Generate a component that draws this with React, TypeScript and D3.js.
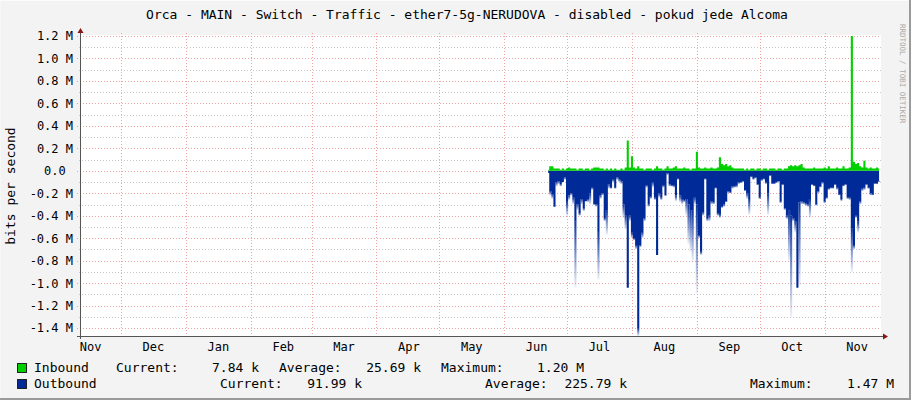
import React, { useRef, useEffect } from 'react';
import * as d3 from 'd3';

// daily samples, first one on 2024-06-22, values in Mbit/s
const firstDay = new Date(2024, 5, 22);

const inbound = [
  0.01, 0.04, 0.04, 0.02, 0.02, 0.02, 0.01, 0.02, 0.01, 0.02,
  0.03, 0.02, 0.02, 0.02, 0.01, 0.02, 0.02, 0.01, 0.02, 0.02,
  0.01, 0.02, 0.03, 0.03, 0.03, 0.02, 0.02, 0.01, 0.02, 0.01,
  0.02, 0.01, 0.02, 0.01, 0.01, 0.02, 0.01, 0.03, 0.27, 0.03,
  0.13, 0.03, 0.02, 0.04, 0.02, 0.02, 0.01, 0.02, 0.02, 0.02,
  0.01, 0.02, 0.04, 0.02, 0.02, 0.01, 0.02, 0.04, 0.02, 0.02,
  0.03, 0.04, 0.02, 0.02, 0.02, 0.03, 0.02, 0.02, 0.01, 0.02,
  0.02, 0.17, 0.03, 0.02, 0.02, 0.03, 0.02, 0.02, 0.03, 0.02,
  0.02, 0.03, 0.12, 0.06, 0.05, 0.06, 0.04, 0.05, 0.03, 0.02,
  0.02, 0.02, 0.02, 0.02, 0.01, 0.02, 0.01, 0.02, 0.02, 0.01,
  0.02, 0.02, 0.01, 0.02, 0.02, 0.01, 0.02, 0.02, 0.02, 0.01,
  0.02, 0.02, 0.01, 0.02, 0.02, 0.04, 0.05, 0.04, 0.05, 0.04,
  0.05, 0.06, 0.03, 0.02, 0.02, 0.02, 0.02, 0.03, 0.02, 0.02,
  0.02, 0.02, 0.03, 0.02, 0.04, 0.02, 0.02, 0.02, 0.03, 0.02,
  0.02, 0.04, 0.02, 0.02, 0.03, 1.2, 0.08, 0.06, 0.07, 0.04,
  0.03, 0.09, 0.03, 0.02, 0.03, 0.02, 0.02, 0.03, 0.02,
];

// outbound average (solid part)
const outbound = [
  0.02, 0.18, 0.21, 0.32, 0.1, 0.09, 0.12, 0.1, 0.06, 0.27,
  0.22, 0.2, 0.24, 0.45, 0.3, 0.38, 0.25, 0.33, 0.27, 0.25,
  0.2, 0.15, 0.3, 0.3, 0.55, 0.22, 0.2, 0.42, 0.35, 0.12,
  0.15, 0.08, 0.15, 0.06, 0.08, 0.09, 0.3, 0.4, 1.04, 0.4,
  0.55, 0.6, 0.66, 1.4, 0.66, 0.55, 0.42, 0.13, 0.3, 0.23,
  0.1, 0.24, 0.75, 0.2, 0.24, 0.13, 0.22, 0.02, 0.12, 0.13,
  0.13, 0.22, 0.07, 0.22, 0.25, 0.26, 0.25, 0.3, 0.35, 0.35,
  0.24, 0.3, 0.57, 0.72, 0.37, 0.07, 0.42, 0.4, 0.27, 0.28,
  0.15, 0.38, 0.39, 0.32, 0.3, 0.27, 0.18, 0.19, 0.14, 0.14,
  0.13, 0.1, 0.1, 0.09, 0.17, 0.2, 0.25, 0.05, 0.07, 0.06,
  0.12, 0.24, 0.08, 0.07, 0.1, 0.2, 0.04, 0.11, 0.11, 0.1,
  0.09, 0.27, 0.12, 0.33, 0.4, 0.35, 0.4, 0.42, 0.45, 1.04,
  0.28, 0.27, 0.28, 0.29, 0.3, 0.25, 0.12, 0.13, 0.3, 0.18,
  0.14, 0.1, 0.27, 0.24, 0.16, 0.15, 0.15, 0.12, 0.15, 0.21,
  0.25, 0.13, 0.12, 0.24, 0.24, 0.51, 0.66, 0.4, 0.45, 0.27,
  0.16, 0.15, 0.12, 0.15, 0.2, 0.21, 0.11, 0.11, 0.09,
];

// outbound peaks (faded tips)
const outboundPeak = [
  0.02, 0.22, 0.25, 0.32, 0.14, 0.12, 0.14, 0.1, 0.08, 0.4,
  0.26, 0.22, 0.3, 1.04, 0.35, 0.4, 0.3, 0.36, 0.27, 0.28,
  0.3, 0.17, 0.3, 0.32, 0.97, 0.25, 0.22, 0.45, 0.57, 0.16,
  0.16, 0.1, 0.16, 0.08, 0.1, 0.12, 0.42, 0.52, 1.04, 0.45,
  0.6, 0.62, 0.7, 1.47, 0.68, 0.6, 0.45, 0.15, 0.32, 0.25,
  0.15, 0.26, 0.75, 0.24, 0.26, 0.15, 0.22, 0.04, 0.14, 0.14,
  0.15, 0.27, 0.08, 0.28, 0.3, 0.28, 0.4, 0.65, 0.72, 0.81,
  0.3, 1.09, 0.6, 0.75, 0.4, 0.08, 0.45, 0.45, 0.3, 0.3,
  0.16, 0.4, 0.42, 0.33, 0.32, 0.28, 0.2, 0.2, 0.16, 0.15,
  0.15, 0.12, 0.11, 0.1, 0.18, 0.25, 0.39, 0.06, 0.08, 0.07,
  0.13, 0.25, 0.09, 0.08, 0.12, 0.39, 0.05, 0.12, 0.12, 0.11,
  0.1, 0.29, 0.13, 0.35, 0.43, 0.8, 1.3, 0.45, 0.55, 1.04,
  1.02, 0.3, 0.3, 0.31, 0.32, 0.42, 0.13, 0.14, 0.31, 0.2,
  0.15, 0.12, 0.29, 0.25, 0.17, 0.16, 0.16, 0.13, 0.17, 0.22,
  0.27, 0.14, 0.13, 0.25, 0.26, 0.9, 0.7, 0.42, 0.55, 0.3,
  0.18, 0.17, 0.13, 0.16, 0.22, 0.22, 0.12, 0.12, 0.1,
];

const yTicks = [1.2, 1.0, 0.8, 0.6, 0.4, 0.2, 0, -0.2, -0.4, -0.6, -0.8, -1.0, -1.2, -1.4];

const legendRows = [
  { name: 'Inbound', color: '#00CF00', cur: '7.84 k', avg: '25.69 k', max: '1.20 M',
    at: [116, 259, 279, 421, 441, 584] },
  { name: 'Outbound', color: '#002A97', cur: '91.99 k', avg: '225.79 k', max: '1.47 M',
    at: [220, 362, 485, 627, 750, 894] },
];

const title = 'Orca - MAIN - Switch - Traffic - ether7-5g-NERUDOVA - disabled - pokud jede Alcoma';

const W = 911;
const H = 400;
const FONT = '"DejaVu Sans Mono", monospace';

const App: React.FC = () => {
  const svgRef = useRef<SVGSVGElement>(null);

  useEffect(() => {
    document.body.style.margin = '0';
    if (!svgRef.current) return;
    const svg = d3.select(svgRef.current);
    svg.selectAll('*').remove();

    const left = 81, right = 881, top = 36, bottom = 336;

    const x = d3.scaleTime()
      .domain([new Date(2023, 10, 11, 22), new Date(2024, 10, 27, 22)])
      .range([left, right]);
    const y = d3.scaleLinear().domain([-1.47, 1.2]).range([bottom, top]);

    const days = inbound.map((_, i) => d3.timeDay.offset(firstDay, i));
    const dayW = x(days[1]) - x(days[0]);

    // frame
    svg.append('rect').attr('width', W).attr('height', H).attr('fill', '#F3F3F3');
    svg.append('path').attr('d', `M0,${H - 1}V0.5H${W - 1}`).attr('stroke', '#FCFCFC').attr('fill', 'none');
    svg.append('path').attr('d', `M${W - 1},0V${H - 1}H0`).attr('stroke', '#9A9A9A').attr('stroke-width', 2).attr('fill', 'none');

    svg.append('rect')
      .attr('x', left).attr('y', top - 1)
      .attr('width', right - left).attr('height', bottom - top + 1)
      .attr('fill', '#fff');

    // grid
    const minor = d3.range(-14, 13).filter((v) => v % 2 !== 0).map((v) => v / 10);
    const grid = svg.append('g');
    grid.selectAll('.minor')
      .data(minor)
      .enter()
      .append('line')
      .attr('x1', left - 2).attr('x2', right)
      .attr('y1', (d) => Math.round(y(d)) + 0.5).attr('y2', (d) => Math.round(y(d)) + 0.5)
      .attr('stroke', '#C8C8C8')
      .attr('stroke-dasharray', '1,2');
    grid.selectAll('.major')
      .data(yTicks)
      .enter()
      .append('line')
      .attr('x1', left - 4).attr('x2', right)
      .attr('y1', (d) => Math.round(y(d)) + 0.5).attr('y2', (d) => Math.round(y(d)) + 0.5)
      .attr('stroke', '#EDA3A3')
      .attr('stroke-dasharray', '1,2');

    const monthStarts = d3.timeMonth.range(x.domain()[0], x.domain()[1]);
    grid.selectAll('.vline')
      .data(monthStarts)
      .enter()
      .append('line')
      .attr('x1', (d) => Math.round(x(d)) + 0.5).attr('x2', (d) => Math.round(x(d)) + 0.5)
      .attr('y1', top - 3).attr('y2', bottom + 2)
      .attr('stroke', '#EDA3A3')
      .attr('stroke-dasharray', '1,2');

    // faded outbound peaks, one gradient per day
    const defs = svg.append('defs');
    const plot = svg.append('g');
    days.forEach((d, i) => {
      const lo = outbound[i];
      const hi = outboundPeak[i];
      if (hi <= lo + 0.005) return;
      const id = `fade${i}`;
      const g = defs.append('linearGradient')
        .attr('id', id)
        .attr('gradientUnits', 'userSpaceOnUse')
        .attr('x1', 0).attr('x2', 0)
        .attr('y1', y(-lo)).attr('y2', y(-hi));
      g.append('stop').attr('offset', 0).attr('stop-color', '#002A97').attr('stop-opacity', 0.95);
      g.append('stop').attr('offset', 1).attr('stop-color', '#002A97').attr('stop-opacity', 0.06);
      plot.append('rect')
        .attr('x', x(d) - dayW / 2)
        .attr('width', dayW)
        .attr('y', y(-lo))
        .attr('height', y(-hi) - y(-lo))
        .attr('fill', `url(#${id})`);
    });

    const outArea = d3.area<number>()
      .x((_, i) => x(days[i]))
      .y0(y(0))
      .y1((d) => y(-d))
      .curve(d3.curveStep);
    plot.append('path').attr('d', outArea(outbound)).attr('fill', '#002A97');

    const inArea = d3.area<number>()
      .x((_, i) => x(days[i]))
      .y0(y(0))
      .y1((d) => y(d))
      .curve(d3.curveStep);
    plot.append('path').attr('d', inArea(inbound)).attr('fill', '#00CF00');

    // axes
    svg.append('line')
      .attr('x1', left - 4).attr('x2', right + 3)
      .attr('y1', bottom + 0.5).attr('y2', bottom + 0.5)
      .attr('stroke', '#555');
    svg.append('line')
      .attr('x1', left - 0.5).attr('x2', left - 0.5)
      .attr('y1', bottom + 3).attr('y2', top - 5)
      .attr('stroke', '#555');
    svg.append('path')
      .attr('d', `M${right + 2},${bottom - 2.5}L${right + 7},${bottom + 0.5}L${right + 2},${bottom + 3.5}Z`)
      .attr('fill', '#8B1414');
    svg.append('path')
      .attr('d', `M${left - 3.5},${top - 3}L${left - 0.5},${top - 8}L${left + 2.5},${top - 3}Z`)
      .attr('fill', '#8B1414');

    // y labels
    svg.append('g')
      .selectAll('text')
      .data(yTicks)
      .enter()
      .append('text')
      .attr('x', 73)
      .attr('y', (d) => y(d))
      .attr('dy', '0.36em')
      .attr('text-anchor', 'end')
      .attr('font-family', FONT)
      .attr('font-size', 12)
      .attr('fill', '#000')
      .text((d) => (d === 0 ? '0.0 ' : `${d.toFixed(1)} M`))
      .attr('xml:space', 'preserve');

    // x labels, centred in the middle of each month
    const labelMonths = d3.timeMonth.range(d3.timeMonth.floor(x.domain()[0]), x.domain()[1]);
    svg.append('g')
      .selectAll('text')
      .data(labelMonths)
      .enter()
      .append('text')
      .attr('x', (d) => x(new Date(d.getTime() + 15.5 * 864e5)))
      .attr('y', 351)
      .attr('text-anchor', 'middle')
      .attr('font-family', FONT)
      .attr('font-size', 12)
      .text((d) => d3.timeFormat('%b')(d));

    // title and axis title
    svg.append('text')
      .attr('x', 467).attr('y', 19)
      .attr('text-anchor', 'middle')
      .attr('font-family', FONT)
      .attr('font-size', 13)
      .text(title);

    svg.append('text')
      .attr('transform', 'translate(15,186) rotate(-90)')
      .attr('text-anchor', 'middle')
      .attr('font-family', FONT)
      .attr('font-size', 13)
      .text('bits per second');

    svg.append('text')
      .attr('transform', 'translate(900,24) rotate(90)')
      .attr('font-family', FONT)
      .attr('font-size', 7.5)
      .attr('fill', '#A8A8A8')
      .text('RRDTOOL / TOBI OETIKER');

    // legend
    const legend = svg.append('g').attr('font-family', FONT).attr('font-size', 13);
    legendRows.forEach((r, k) => {
      const base = 372 + k * 16;
      legend.append('rect')
        .attr('x', 17.5).attr('y', base - 8.5)
        .attr('width', 9).attr('height', 9)
        .attr('fill', r.color)
        .attr('stroke', '#222');
      legend.append('text').attr('x', 34).attr('y', base).text(r.name);
      legend.append('text').attr('x', r.at[0]).attr('y', base).text('Current:');
      legend.append('text').attr('x', r.at[1]).attr('y', base).attr('text-anchor', 'end').text(r.cur);
      legend.append('text').attr('x', r.at[2]).attr('y', base).text('Average:');
      legend.append('text').attr('x', r.at[3]).attr('y', base).attr('text-anchor', 'end').text(r.avg);
      legend.append('text').attr('x', r.at[4]).attr('y', base).text('Maximum:');
      legend.append('text').attr('x', r.at[5]).attr('y', base).attr('text-anchor', 'end').text(r.max);
    });
  }, []);

  return (
    <div style={{ position: 'absolute', left: 0, top: 0 }}>
      <svg ref={svgRef} width={W} height={H} style={{ display: 'block' }} />
    </div>
  );
};

export default App;
